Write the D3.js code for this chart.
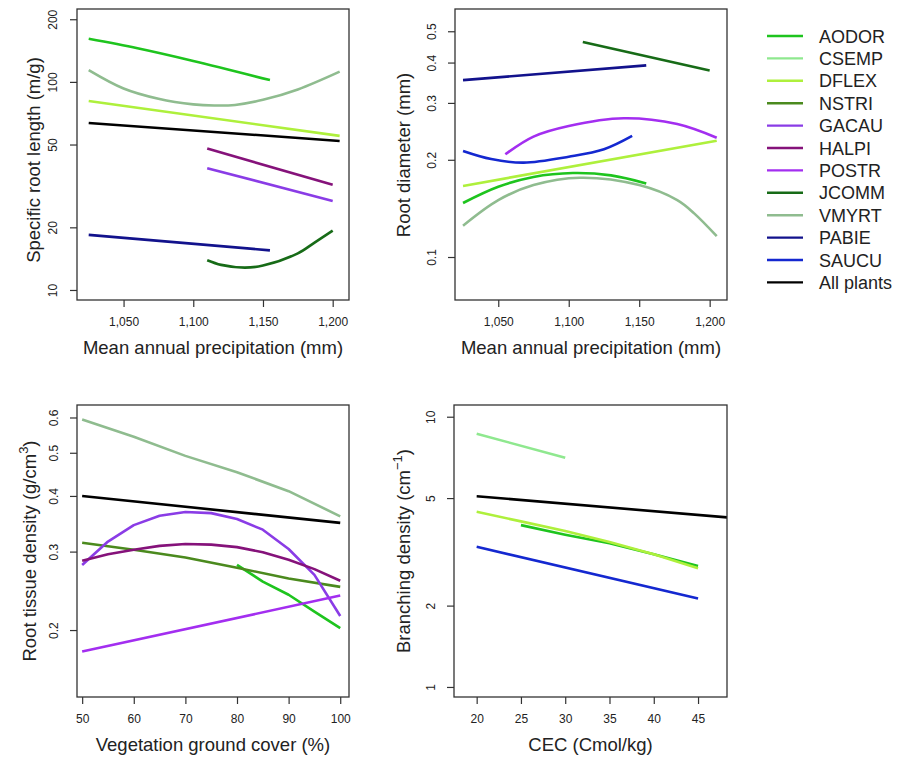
<!DOCTYPE html>
<html>
<head>
	<title>Root traits</title>
	<meta charset="utf-8">
	<script src="https://cdn.jsdelivr.net/npm/d3@7"></script>
	<style>
		body { margin: 0; background: #fff; }
		text { font-family: "Liberation Sans", Arial, sans-serif; fill: #222; }
	</style>
</head>
<body>
	<script type="text/javascript">
		var width = 907
		var height = 759

		// species + colours (legend order)
		var species = ["AODOR", "CSEMP", "DFLEX", "NSTRI", "GACAU", "HALPI", "POSTR", "JCOMM", "VMYRT", "PABIE", "SAUCU", "All plants"]
		var speciesColors = ["#1ec41e", "#8fe88f", "#aef03c", "#4b8a1e", "#8a3ce6", "#85127a", "#a32ef0", "#176b17", "#8fbc8f", "#12128c", "#1428d0", "#000000"]

		// tick values
		var precipTicks = [1050, 1100, 1150, 1200]
		var coverTicks = [50, 60, 70, 80, 90, 100]
		var cecTicks = [20, 25, 30, 35, 40, 45]
		var srlTicks = [10, 20, 50, 100, 200]
		var diamTicks = [0.1, 0.2, 0.3, 0.4, 0.5]
		var rtdTicks = [0.2, 0.3, 0.4, 0.5, 0.6]
		var branchTicks = [1, 2, 5, 10]

		// specific root length vs precipitation
		var srlData = [
			{sp: "AODOR", x: [1025, 1060, 1100, 1155], y: [161, 145, 126, 102]},
			{sp: "DFLEX", x: [1025, 1205], y: [81, 55]},
			{sp: "GACAU", x: [1110, 1200], y: [38.5, 26.8]},
			{sp: "HALPI", x: [1110, 1200], y: [47.8, 32]},
			{sp: "JCOMM", x: [1110, 1120, 1137, 1150, 1175, 1187, 1200], y: [13.9, 13.2, 12.8, 13.1, 15.0, 16.9, 19.3]},
			{sp: "VMYRT", x: [1025, 1050, 1075, 1100, 1115, 1130, 1150, 1175, 1205], y: [114, 93, 83, 78, 77, 77.5, 82, 92, 112]},
			{sp: "PABIE", x: [1025, 1155], y: [18.4, 15.5]},
			{sp: "All plants", x: [1025, 1205], y: [63.5, 52]}
		]

		// root diameter vs precipitation
		var diamData = [
			{sp: "AODOR", x: [1025, 1050, 1075, 1103, 1130, 1155], y: [0.147, 0.165, 0.177, 0.182, 0.179, 0.169]},
			{sp: "DFLEX", x: [1025, 1205], y: [0.166, 0.229]},
			{sp: "POSTR", x: [1055, 1075, 1100, 1139, 1177, 1205], y: [0.208, 0.236, 0.2545, 0.269, 0.258, 0.234]},
			{sp: "JCOMM", x: [1110, 1200], y: [0.463, 0.378]},
			{sp: "VMYRT", x: [1025, 1050, 1075, 1108, 1150, 1177, 1189, 1205], y: [0.125, 0.150, 0.167, 0.176, 0.167, 0.150, 0.1365, 0.116]},
			{sp: "PABIE", x: [1025, 1155], y: [0.353, 0.392]},
			{sp: "SAUCU", x: [1025, 1045, 1068, 1100, 1125, 1145], y: [0.213, 0.201, 0.196, 0.2044, 0.2155, 0.237]}
		]

		// root tissue density vs ground cover
		var rtdData = [
			{sp: "AODOR", x: [80, 85, 90, 95, 100], y: [0.280, 0.257, 0.240, 0.220, 0.202]},
			{sp: "NSTRI", x: [50, 60, 70, 80, 90, 100], y: [0.314, 0.303, 0.291, 0.276, 0.261, 0.25]},
			{sp: "GACAU", x: [50, 55, 60, 65, 70, 75, 80, 85, 90, 95, 100], y: [0.280, 0.316, 0.344, 0.361, 0.368, 0.366, 0.355, 0.336, 0.304, 0.266, 0.215]},
			{sp: "HALPI", x: [50, 55, 60, 65, 70, 75, 80, 85, 90, 95, 100], y: [0.286, 0.296, 0.303, 0.309, 0.312, 0.311, 0.307, 0.299, 0.2875, 0.274, 0.258]},
			{sp: "POSTR", x: [50, 100], y: [0.179, 0.239]},
			{sp: "VMYRT", x: [50, 60, 70, 80, 90, 100], y: [0.594, 0.543, 0.492, 0.452, 0.41, 0.36]},
			{sp: "All plants", x: [50, 100], y: [0.4, 0.348]}
		]

		// branching density vs CEC
		var branchData = [
			{sp: "AODOR", x: [25, 30, 35, 40, 45], y: [3.97, 3.66, 3.40, 3.1, 2.8]},
			{sp: "CSEMP", x: [20, 30], y: [8.65, 7.05]},
			{sp: "DFLEX", x: [20, 25, 30, 35, 40, 45], y: [4.45, 4.1, 3.78, 3.44, 3.1, 2.75]},
			{sp: "SAUCU", x: [20, 45], y: [3.30, 2.125]},
			{sp: "All plants", x: [20, 48.3], y: [5.08, 4.24]}
		]

		var color = d3.scaleOrdinal().domain(species).range(speciesColors)

		var svg = d3.select("body").append("svg")
			.attr("width", width)
			.attr("height", height)

		var panels = [
			{id: "p1", box: [77, 349, 9, 300], xdom: [1016.6, 1211.7], ydom: [8.95, 224], xticks: precipTicks, yticks: srlTicks,
			 xfmt: d3.format(","), yfmt: d3.format("d"), data: srlData, smooth: true,
			 xlab: "Mean annual precipitation (mm)", ylab: ["Specific root length (m/g)"], ylabX: 33, ylabY: 160, ylabelOff: 19.7},
			{id: "p2", box: [455, 727, 9, 300], xdom: [1019.3, 1212.3], ydom: [0.0736, 0.586], xticks: precipTicks, yticks: diamTicks,
			 xfmt: d3.format(","), yfmt: d3.format(".1f"), data: diamData, smooth: true,
			 xlab: "Mean annual precipitation (mm)", ylab: ["Root diameter (mm)"], ylabX: 403, ylabY: 155, ylabelOff: 19},
			{id: "p3", box: [77, 349, 405, 697], xdom: [49.0, 101.7], ydom: [0.1415, 0.640], xticks: coverTicks, yticks: rtdTicks,
			 xfmt: d3.format("d"), yfmt: d3.format(".1f"), data: rtdData, smooth: false,
			 xlab: "Vegetation ground cover (%)", ylab: ["Root tissue density (g/cm", "3", ")"], ylabX: 29, ylabY: 551, ylabelOff: 19.5},
			{id: "p4", box: [454, 727, 405, 697], xdom: [17.44, 48.27], ydom: [0.918, 11.05], xticks: cecTicks, yticks: branchTicks,
			 xfmt: d3.format("d"), yfmt: d3.format("d"), data: branchData, smooth: false,
			 xlab: "CEC (Cmol/kg)", ylab: ["Branching density (cm", "\u22121", ")"], ylabX: 403, ylabY: 551, ylabelOff: 19}
		]

		panels.forEach(function(p) {
			var left = p.box[0], right = p.box[1], top = p.box[2], bottom = p.box[3]
			var x = d3.scaleLinear().domain(p.xdom).range([left, right])
			var y = d3.scaleLog().domain(p.ydom).range([bottom, top])

			svg.append("clipPath").attr("id", "clip-" + p.id)
				.append("rect")
				.attr("x", left).attr("y", top)
				.attr("width", right - left).attr("height", bottom - top)

			// lines
			var line = d3.line()
				.x(d => x(d[0]))
				.y(d => y(d[1]))
				.curve(p.smooth ? d3.curveCatmullRom.alpha(0.5) : d3.curveLinear)

			svg.append("g")
				.attr("clip-path", "url(#clip-" + p.id + ")")
				.selectAll("path")
				.data(p.data)
				.enter()
				.append("path")
				.attr("d", d => line(d3.zip(d.x, d.y)))
				.attr("fill", "none")
				.attr("stroke", d => color(d.sp))
				.attr("stroke-width", 2.6)
				.attr("stroke-linejoin", "round")

			// x axis
			var gx = svg.append("g")
				.attr("transform", "translate(0," + bottom + ")")
				.call(d3.axisBottom(x).tickValues(p.xticks).tickFormat(p.xfmt).tickSize(7).tickPadding(10))
			gx.select(".domain").remove()
			gx.selectAll("line").attr("stroke", "#333").attr("stroke-width", 1.2)
			gx.selectAll("text").style("font-size", "12px").attr("fill", "#222")
				.style("font-family", "'Liberation Sans', Arial, sans-serif")

			// y axis, labels rotated like base R
			var gy = svg.append("g")
				.attr("transform", "translate(" + left + ",0)")
				.call(d3.axisLeft(y).tickValues(p.yticks).tickFormat(p.yfmt).tickSize(7))
			gy.select(".domain").remove()
			gy.selectAll("line").attr("stroke", "#333").attr("stroke-width", 1.2)
			gy.selectAll("text")
				.attr("transform", "rotate(-90)")
				.attr("x", 0)
				.attr("y", -p.ylabelOff)
				.attr("dy", null)
				.attr("fill", "#222")
				.style("text-anchor", "middle")
				.style("font-size", "12px")
				.style("font-family", "'Liberation Sans', Arial, sans-serif")

			// box
			svg.append("rect")
				.attr("x", left).attr("y", top)
				.attr("width", right - left).attr("height", bottom - top)
				.attr("fill", "none")
				.attr("stroke", "#333")
				.attr("stroke-width", 1.3)

			// axis titles
			svg.append("text")
				.attr("x", (left + right) / 2)
				.attr("y", bottom + 54)
				.attr("text-anchor", "middle")
				.style("font-size", "18.5px")
				.text(p.xlab)

			var yt = svg.append("text")
				.attr("transform", "translate(" + (p.ylabX + 6.6) + "," + p.ylabY + ") rotate(-90)")
				.attr("text-anchor", "middle")
				.style("font-size", "18.5px")
			yt.append("tspan").text(p.ylab[0])
			if (p.ylab.length > 1) {
				yt.append("tspan").attr("dy", -8).style("font-size", "13px").text(p.ylab[1])
				yt.append("tspan").attr("dy", 8).text(p.ylab[2])
			}
		})

		// legend
		var legend = svg.append("g")
			.selectAll("g")
			.data(species)
			.enter()
			.append("g")
			.attr("transform", (d, i) => "translate(767," + (36 + i * 22.4) + ")")

		legend.append("line")
			.attr("x1", 0).attr("x2", 36)
			.attr("stroke", d => color(d))
			.attr("stroke-width", 2.4)

		legend.append("text")
			.attr("x", 52)
			.attr("y", 6.5)
			.style("font-size", "18px")
			.text(d => d)
	</script>
</body>
</html>
